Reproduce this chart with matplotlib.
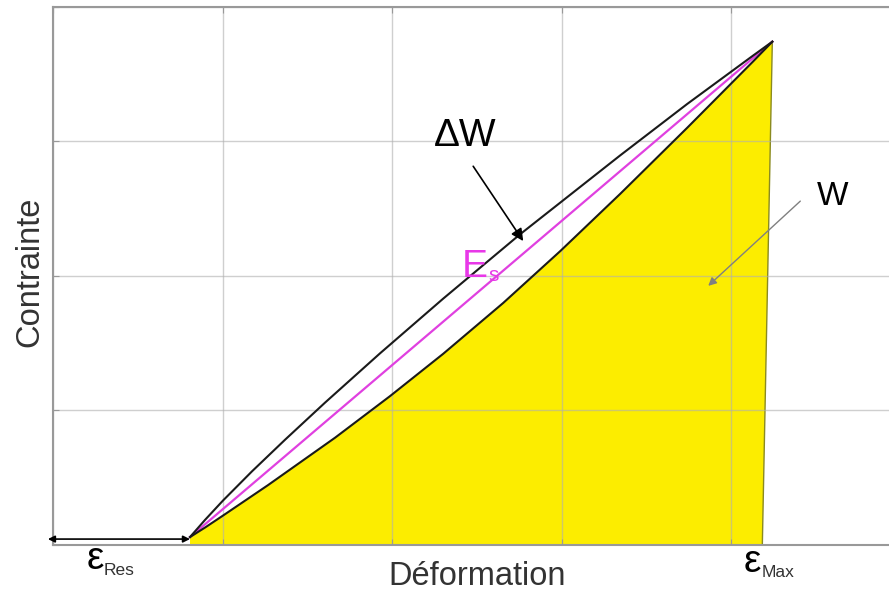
# hysteresis loop: stress vs strain with stored energy W and lost energy dW

import matplotlib
matplotlib.use('Agg')
from matplotlib import pyplot as plt

plt.rcParams['font.family'] = ['Liberation Sans', 'DejaVu Sans']

# loading branch (upper curve)
load_x = [0.808, 0.897, 1.003, 1.174, 1.369, 1.605, 1.929, 2.301, 2.755,
          3.345, 3.740, 4.130, 4.242]
load_y = [0.059, 0.187, 0.331, 0.548, 0.783, 1.059, 1.425, 1.831, 2.310,
          2.896, 3.278, 3.639, 3.741]

# unloading branch (lower curve)
unload_x = [0.808, 0.897, 1.003, 1.268, 1.664, 1.988, 2.301, 2.655, 2.991,
            3.345, 3.740, 4.130, 4.242]
unload_y = [0.059, 0.130, 0.219, 0.445, 0.798, 1.107, 1.421, 1.799, 2.184,
            2.610, 3.101, 3.596, 3.741]

# secant modulus line
secant_x = [0.808, 4.242]
secant_y = [0.059, 3.741]

eps_res = 0.808
eps_max = 4.183

fig = plt.figure(figsize=(8.89, 5.94), dpi=100)
ax = fig.add_axes([0.0596, 0.0825, 0.9404, 0.906])

# W area under the unloading branch
fill_x = unload_x + [eps_max, eps_res]
fill_y = unload_y + [0, 0]
ax.fill(fill_x, fill_y, color='#fced00', zorder=0.4, lw=0)
ax.plot([unload_x[-1], eps_max], [unload_y[-1], 0], color='#8a8a20', lw=1, zorder=0.45)

ax.plot(secant_x, secant_y, color='#e040e0', lw=1.6, zorder=2)
ax.plot(load_x, load_y, color='#1a1a1a', lw=1.5, zorder=3, solid_joinstyle='round')
ax.plot(unload_x, unload_y, color='#1a1a1a', lw=1.5, zorder=3, solid_joinstyle='round')

ax.set_xlim(0, 4.93)
ax.set_ylim(0, 4)
ax.set_xticks([0, 1, 2, 3, 4])
ax.set_yticks([0, 1, 2, 3, 4])
ax.tick_params(direction='in', length=4, color='#999999',
               labelbottom=False, labelleft=False, top=True)
ax.grid(True, color='#b0b0b0', alpha=0.6, lw=1)
ax.set_axisbelow(True)
for side in ['left', 'bottom', 'top']:
    ax.spines[side].set_color('#999999')
    ax.spines[side].set_linewidth(1.5)
ax.spines['right'].set_visible(False)

# annotations
ax.annotate('', xy=(2.773, 2.259), xytext=(2.478, 2.815),
            arrowprops=dict(arrowstyle='-|>', color='black', lw=1.2,
                            mutation_scale=18, shrinkA=0, shrinkB=0))
ax.text(2.431, 3.037, 'ΔW', fontsize=28, ha='center', va='center')

ax.text(2.41, 1.99, 'E', fontsize=28, color='#e838e8', ha='left', va='baseline')
ax.text(2.57, 1.96, 's', fontsize=15, color='#e838e8', ha='left', va='baseline')

ax.text(4.596, 2.593, 'W', fontsize=24, ha='center', va='center')
ax.annotate('', xy=(3.864, 1.926), xytext=(4.407, 2.556),
            arrowprops=dict(arrowstyle='-|>', color='#808080', lw=1,
                            mutation_scale=12, shrinkA=0, shrinkB=0))

ax.annotate('', xy=(eps_res, 0.044), xytext=(-0.03, 0.044),
            arrowprops=dict(arrowstyle='<|-|>', color='black', lw=1.2,
                            mutation_scale=10, shrinkA=0, shrinkB=0),
            annotation_clip=False)

ax.text(0.20, -0.18, 'ε', fontsize=28, ha='left', va='baseline', clip_on=False)
ax.text(0.30, -0.22, 'Res', fontsize=12.5, color='#333333', ha='left', va='baseline', clip_on=False)
ax.text(4.07, -0.20, 'ε', fontsize=28, ha='left', va='baseline', clip_on=False)
ax.text(4.18, -0.24, 'Max', fontsize=12.5, color='#333333', ha='left', va='baseline', clip_on=False)

fig.text(0.537, 0.029, 'Déformation', fontsize=23.5, color='#333333', ha='center', va='center')
fig.text(0.034, 0.542, 'Contrainte', fontsize=23.5, color='#333333', rotation=90,
         ha='center', va='center')

fig.savefig('out.png', dpi=100)
